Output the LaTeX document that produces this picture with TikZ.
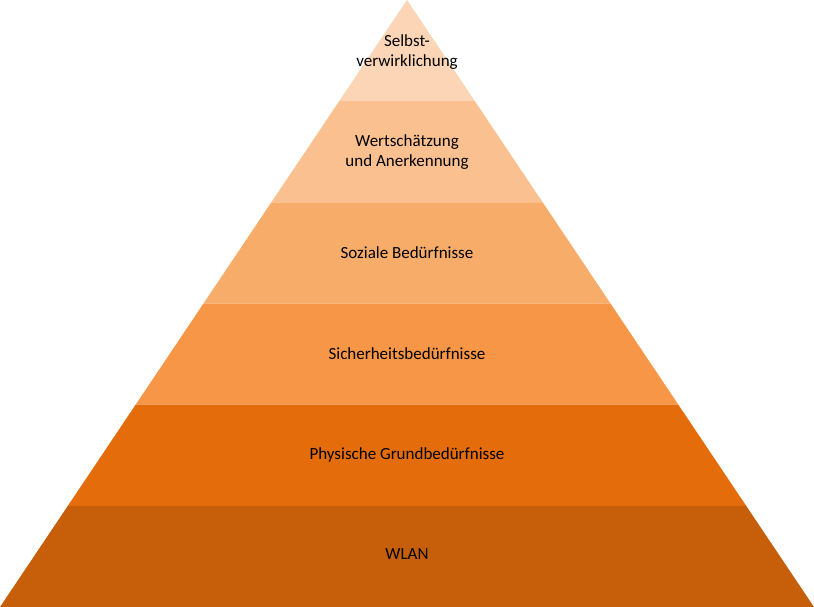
\documentclass[tikz,border=0pt]{standalone}
\usepackage{fontspec}
\setmainfont{Carlito}
\begin{document}
\begin{tikzpicture}[x=1pt,y=-1pt,lbl/.style={font=\fontsize{17}{20}\selectfont,align=center,text=black}]
\useasboundingbox (0,0) rectangle (814,607);
\definecolor{c1}{HTML}{FBD5B5}
\definecolor{c2}{HTML}{FAC090}
\definecolor{c3}{HTML}{F8AC6A}
\definecolor{c4}{HTML}{F79646}
\definecolor{c5}{HTML}{E46C0A}
\definecolor{c6}{HTML}{C65E0A}
\foreach \i/\c in {0/c1,1/c2,2/c3,3/c4,4/c5,5/c6}{
  \pgfmathsetmacro\ya{\i*101.17}
  \pgfmathsetmacro\yb{(\i+1)*101.17}
  \pgfmathsetmacro\wa{\ya*0.6705}
  \pgfmathsetmacro\wb{\yb*0.6705}
  \fill[\c] (407-\wa,\ya) -- (407+\wa,\ya) -- (407+\wb,\yb) -- (407-\wb,\yb) -- cycle;
}
\node[lbl] (l1) at (407,52) {Selbst-\\verwirklichung};
\node[lbl] (l2) at (407,152) {Wertschätzung\\und Anerkennung};
\node[lbl] (l3) at (407,253) {Soziale Bedürfnisse};
\node[lbl] (l4) at (407,354) {Sicherheitsbedürfnisse};
\node[lbl] (l5) at (407,455) {Physische Grundbedürfnisse};
\node[lbl] (l6) at (407,554) {WLAN};
\end{tikzpicture}
\end{document}
